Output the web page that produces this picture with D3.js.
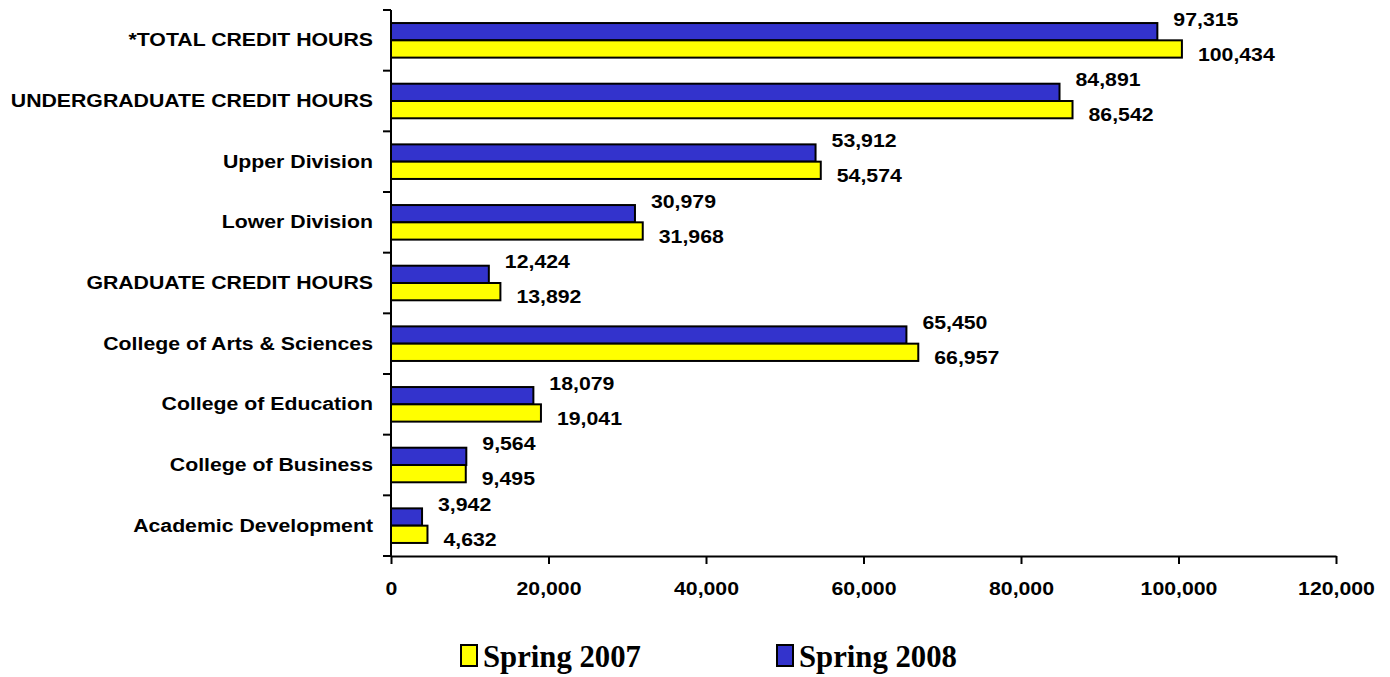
<!DOCTYPE html>
<html>
<head>
<meta charset="utf-8">
<script src="https://cdn.jsdelivr.net/npm/d3@7"></script>
<style>
  body { margin: 0; background: #fff; }
  svg { display: block; }
</style>
</head>
<body>
<div id="chart"></div>
<script>
const FRAME_WIDTH = 1390;
const FRAME_HEIGHT = 677;
const MARGINS = { left: 391, right: 54, top: 10, bottom: 121 };

// data
const categories = [
  "*TOTAL CREDIT HOURS",
  "UNDERGRADUATE CREDIT HOURS",
  "Upper Division",
  "Lower Division",
  "GRADUATE CREDIT HOURS",
  "College of Arts & Sciences",
  "College of Education",
  "College of Business",
  "Academic Development"
];
const spring2008 = [97315, 84891, 53912, 30979, 12424, 65450, 18079, 9564, 3942];
const spring2007 = [100434, 86542, 54574, 31968, 13892, 66957, 19041, 9495, 4632];
const seriesNames = ["Spring 2007", "Spring 2008"];
const xTicks = [0, 20000, 40000, 60000, 80000, 100000, 120000];

const VIS_WIDTH = FRAME_WIDTH - MARGINS.left - MARGINS.right;
const VIS_HEIGHT = FRAME_HEIGHT - MARGINS.top - MARGINS.bottom;

const COLORS = { "Spring 2007": "#FFFF00", "Spring 2008": "#3333CC" };
const FONT = "'Liberation Sans', Arial, sans-serif";
const STRETCH = 1.15; // the original's Arial is drawn a bit wide

const FRAME = d3.select("#chart")
    .append("svg")
    .attr("width", FRAME_WIDTH)
    .attr("height", FRAME_HEIGHT);

const X_SCALE = d3.scaleLinear()
    .domain([0, 120000])
    .range([0, VIS_WIDTH]);

const Y_SCALE = d3.scaleBand()
    .domain(categories)
    .range([0, VIS_HEIGHT]);

// bars sit in the middle of each band, 2008 above 2007
const INNER = d3.scaleBand()
    .domain(["Spring 2008", "Spring 2007"])
    .range([Y_SCALE.bandwidth() * 0.215, Y_SCALE.bandwidth() * 0.785]);

const G = FRAME.append("g")
    .attr("transform", "translate(" + MARGINS.left + "," + MARGINS.top + ")");

const rows = categories.map((c, i) => ({
  cat: c,
  vals: [
    { s: "Spring 2008", v: spring2008[i] },
    { s: "Spring 2007", v: spring2007[i] }
  ]
}));

const groups = G.selectAll(".row")
    .data(rows)
    .enter()
    .append("g")
    .attr("transform", (d) => "translate(0," + Y_SCALE(d.cat) + ")");

groups.selectAll("rect")
    .data((d) => d.vals)
    .enter()
    .append("rect")
    .attr("x", 0)
    .attr("y", (d) => INNER(d.s))
    .attr("width", (d) => X_SCALE(d.v))
    .attr("height", INNER.bandwidth())
    .attr("fill", (d) => COLORS[d.s])
    .attr("stroke", "#000")
    .attr("stroke-width", 2);

// value labels: 2008 raised above its bar, 2007 dropped below
groups.selectAll(".val")
    .data((d) => d.vals)
    .enter()
    .append("text")
    .attr("transform", (d) => "translate(" + (X_SCALE(d.v) + 16) + "," +
        (Y_SCALE.bandwidth() / 2 + (d.s === "Spring 2008" ? -21 : 14)) + ") scale(" + STRETCH + ",1)")
    .attr("dy", "0.35em")
    .attr("font-family", FONT)
    .attr("font-weight", "bold")
    .attr("font-size", "18.5px")
    .text((d) => d3.format(",")(d.v));

// y axis
const yAxis = G.append("g")
    .call(d3.axisLeft(Y_SCALE).tickSize(0).tickPadding(0));
yAxis.select(".domain").remove();
yAxis.selectAll("text")
    .attr("x", null)
    .attr("transform", "translate(-18,0) scale(" + STRETCH + ",1)")
    .attr("font-family", FONT)
    .attr("font-weight", "bold")
    .attr("font-size", "18.5px")
    .attr("fill", "#000");

// band separators on the y axis
G.selectAll(".ytick")
    .data(categories.concat(["end"]))
    .enter()
    .append("line")
    .attr("x1", -8)
    .attr("x2", 0)
    .attr("y1", (d, i) => i * Y_SCALE.step())
    .attr("y2", (d, i) => i * Y_SCALE.step())
    .attr("stroke", "#000")
    .attr("stroke-width", 2);

G.append("line")
    .attr("x1", 0).attr("x2", 0)
    .attr("y1", 0).attr("y2", VIS_HEIGHT)
    .attr("stroke", "#000")
    .attr("stroke-width", 2);

// x axis
const xAxis = G.append("g")
    .attr("transform", "translate(0," + VIS_HEIGHT + ")")
    .call(d3.axisBottom(X_SCALE).tickValues(xTicks).tickFormat(d3.format(",")).tickSize(8).tickSizeOuter(0).tickPadding(18));
xAxis.select(".domain")
    .attr("stroke", "#000")
    .attr("stroke-width", 2);
xAxis.selectAll("line")
    .attr("stroke", "#000")
    .attr("stroke-width", 2);
xAxis.selectAll("text")
    .attr("transform", "scale(" + STRETCH + ",1)")
    .attr("font-family", FONT)
    .attr("font-weight", "bold")
    .attr("font-size", "18.5px")
    .attr("fill", "#000");

// legend
const LEGEND_X = [461, 777];
const legend = FRAME.selectAll(".legend")
    .data(seriesNames)
    .enter()
    .append("g")
    .attr("transform", (d, i) => "translate(" + LEGEND_X[i] + ",645)");

legend.append("rect")
    .attr("width", 16)
    .attr("height", 21)
    .attr("fill", (d) => COLORS[d])
    .attr("stroke", "#000")
    .attr("stroke-width", 2);

legend.append("text")
    .attr("transform", "translate(22,22) scale(0.96,1)")
    .attr("font-family", "'Liberation Serif', 'Times New Roman', serif")
    .attr("font-weight", "bold")
    .attr("font-size", "32px")
    .text((d) => d);
</script>
</body>
</html>
